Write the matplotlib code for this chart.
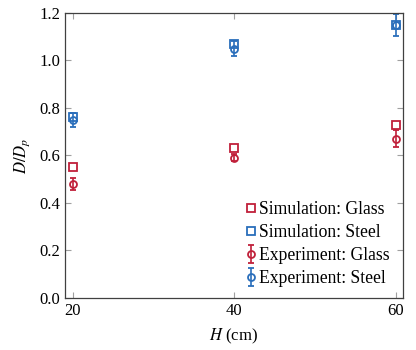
import matplotlib.pyplot as plt

plt.rcParams['font.family'] = ['Liberation Serif', 'DejaVu Serif']
plt.rcParams['mathtext.fontset'] = 'stix'

# data
heights = [20, 40, 60]
sim_glass = [0.55, 0.63, 0.73]
sim_steel = [0.76, 1.07, 1.15]
exp_glass = [0.48, 0.59, 0.67]
exp_glass_err = [0.025, 0.015, 0.035]
exp_steel = [0.75, 1.05, 1.15]
exp_steel_err = [0.03, 0.03, 0.045]

red = '#c0203a'
blue = '#2a6ebb'

fig = plt.figure(figsize=(4.16, 3.5), dpi=100)
ax = fig.add_axes([0.156, 0.149, 0.813, 0.814])

ax.plot(heights, sim_glass, 's', mfc='none', mec=red, ms=5.5, mew=1.3,
        label='Simulation: Glass')
ax.plot(heights, sim_steel, 's', mfc='none', mec=blue, ms=5.5, mew=1.3,
        label='Simulation: Steel')
ax.errorbar(heights, exp_glass, yerr=exp_glass_err, fmt='o', mfc='none',
            mec=red, ecolor=red, ms=5, mew=1.3, capsize=2.5, elinewidth=1.2,
            label='Experiment: Glass')
ax.errorbar(heights, exp_steel, yerr=exp_steel_err, fmt='o', mfc='none',
            mec=blue, ecolor=blue, ms=5, mew=1.3, capsize=2.5, elinewidth=1.2,
            label='Experiment: Steel')

ax.set_xlim(19, 60.9)
ax.set_ylim(0, 1.2)
ax.set_xticks([20, 40, 60])
ax.set_yticks([0.0, 0.2, 0.4, 0.6, 0.8, 1.0, 1.2])
ax.set_yticklabels(['0.0', '0.2', '0.4', '0.6', '0.8', '1.0', '1.2'])
ax.tick_params(direction='in', color='#a0a0a0', length=4, labelsize=12,
               top=True, right=True)
for s in ax.spines.values():
    s.set_linewidth(0.9)
    s.set_color('#404040')

ax.set_xlabel('$H$ (cm)', fontsize=12, labelpad=6)
ax.set_ylabel('$D/D_p$', fontsize=12, labelpad=5)

ax.legend(loc='lower right', frameon=False, fontsize=12.7, handlelength=0.5,
          handletextpad=0.2, labelspacing=0.35, borderaxespad=0.2,
          bbox_to_anchor=(0.99, 0.0))

fig.savefig('out.png', dpi=100)
